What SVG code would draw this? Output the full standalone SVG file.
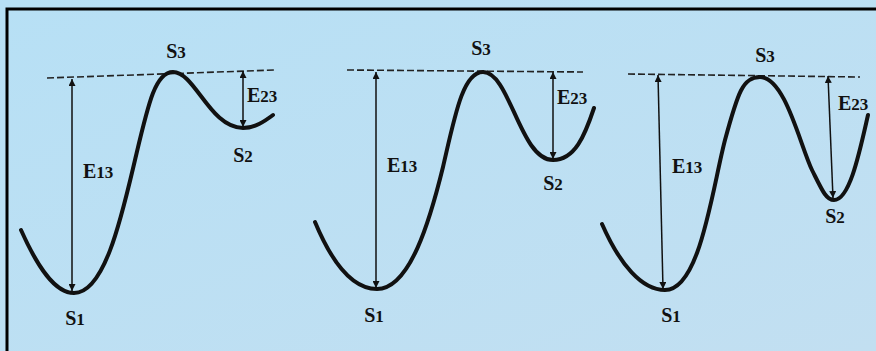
<svg xmlns="http://www.w3.org/2000/svg" width="876" height="351" viewBox="0 0 876 351">
<defs>
<linearGradient id="bg" x1="0" y1="0" x2="1" y2="1">
<stop offset="0" stop-color="#b7e0f5"/>
<stop offset="1" stop-color="#c2dff1"/>
</linearGradient>
<marker id="ah" viewBox="0 0 10 10" refX="10" refY="5" markerWidth="7" markerHeight="7" markerUnits="userSpaceOnUse" orient="auto-start-reverse">
<path d="M0,0 L10,5 L0,10 z" fill="#111"/>
</marker>
</defs>
<style>
.curve{fill:none;stroke:#111;stroke-width:4;stroke-linecap:round}
.dash{fill:none;stroke:#222;stroke-width:1.6;stroke-dasharray:7 3}
.arr{fill:none;stroke:#111;stroke-width:1.5;marker-start:url(#ah);marker-end:url(#ah)}
text{font-family:"Liberation Serif","Times New Roman",serif;font-weight:bold;fill:#111;font-size:20px}
.m{text-anchor:middle}
.sub{font-size:17px}
</style>
<rect x="0" y="0" width="876" height="351" fill="url(#bg)"/>
<path d="M7,351 V9 H876" fill="none" stroke="#000" stroke-width="3"/>

<g id="panel1">
<path class="dash" d="M47,78 L276,70"/>
<path class="curve" d="M21,230 C38,268 55,293 74,293 C105,293 122,215 135,160 C148,105 155,72 173,72 C195,72 210,128 243,128 C255,128 265,121 273,115"/>
<g id="p1-arrows">
<line class="arr" x1="72" y1="79" x2="72" y2="291"/>
<line class="arr" x1="243" y1="71" x2="243" y2="127"/>
</g>
<text class="m" x="176" y="58">S<tspan class="sub">3</tspan></text>
<text class="m" x="75" y="325">S<tspan class="sub">1</tspan></text>
<text class="m" x="243" y="162">S<tspan class="sub">2</tspan></text>
<text x="83" y="178">E<tspan class="sub">13</tspan></text>
<text x="247" y="102">E<tspan class="sub">23</tspan></text>
</g>

<g id="panel2">
<path class="dash" d="M347,70 L583,72"/>
<path class="curve" d="M315,222 C330,258 350,289 377,289 C410,289 430,220 443,167 C455,115 463,72 483,72 C510,72 520,160 553,160 C575,160 585,135 594,108"/>
<g id="p2-arrows">
<line class="arr" x1="376" y1="72" x2="376" y2="288"/>
<line class="arr" x1="553" y1="72" x2="553" y2="159"/>
</g>
<text class="m" x="481" y="55">S<tspan class="sub">3</tspan></text>
<text class="m" x="374" y="322">S<tspan class="sub">1</tspan></text>
<text class="m" x="553" y="190">S<tspan class="sub">2</tspan></text>
<text x="387" y="172">E<tspan class="sub">13</tspan></text>
<text x="557" y="104">E<tspan class="sub">23</tspan></text>
</g>

<g id="panel3">
<path class="dash" d="M628,74 L860,77"/>
<path class="curve" d="M602,224 C620,265 642,290 665,290 C700,290 712,190 725,140 C738,92 743,77 760,77 C785,77 800,145 812,170 C822,190 826,200 834,200 C850,200 860,150 868,115"/>
<g id="p3-arrows">
<line class="arr" x1="658" y1="75" x2="663" y2="289"/>
<line class="arr" x1="828" y1="76" x2="833" y2="198"/>
</g>
<text class="m" x="765" y="62">S<tspan class="sub">3</tspan></text>
<text class="m" x="671" y="322">S<tspan class="sub">1</tspan></text>
<text class="m" x="835" y="223">S<tspan class="sub">2</tspan></text>
<text x="672" y="173">E<tspan class="sub">13</tspan></text>
<text x="838" y="110">E<tspan class="sub">23</tspan></text>
</g>
</svg>
